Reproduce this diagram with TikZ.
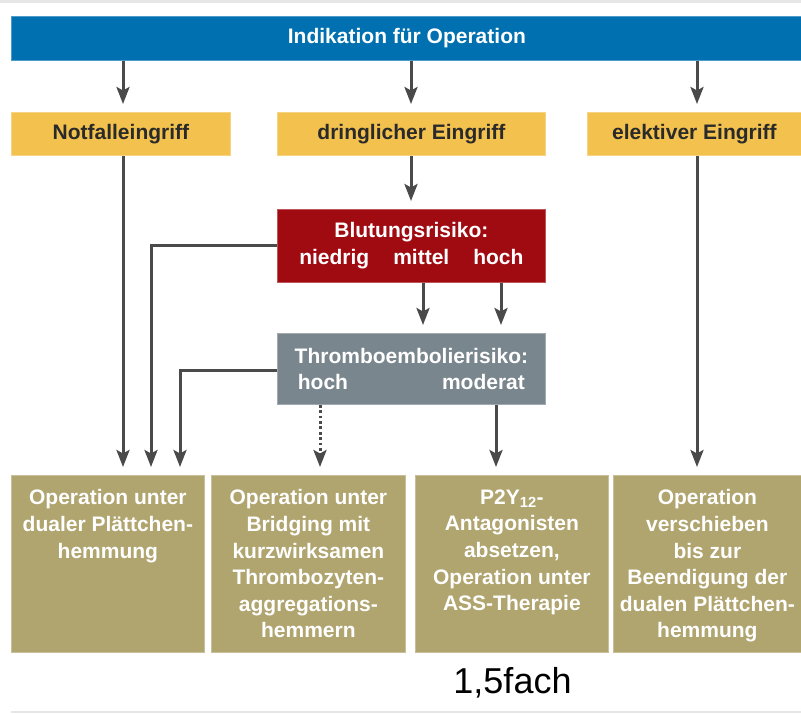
\documentclass[tikz,border=0pt]{standalone}
\usepackage{fontspec}
\setmainfont{Liberation Sans}
\usetikzlibrary{arrows.meta}
\definecolor{barblue}{HTML}{0070B0}
\definecolor{boxyellow}{HTML}{F2C14E}
\definecolor{riskred}{HTML}{A00B12}
\definecolor{riskgray}{HTML}{7A868E}
\definecolor{resultolive}{HTML}{B0A46F}
\definecolor{linkgray}{HTML}{4A4A4A}
\definecolor{rulegray}{HTML}{E6E6E6}
\definecolor{darktext}{HTML}{2A2A2A}

\begin{document}
\begin{tikzpicture}[x=1pt,y=-1pt,
  box/.style={rectangle, inner sep=0pt, anchor=north west,
    fill=#1, draw=#1!70!white, line width=0.8pt},
  boldtext/.style={font=\bfseries\fontsize{21}{26.6}\selectfont, align=center},
  link/.style={draw=linkgray, line width=3pt,
    -{Stealth[length=17pt,width=13pt,inset=3.5pt]}, shorten >=8pt},
  dottedlink/.style={link, dash pattern=on 2.8pt off 2.6pt}
]
\useasboundingbox (0,0) rectangle (801,713);

% thin separator rules at top and bottom
\fill[rulegray] (0,0) rectangle (801,2.5);
\fill[rulegray] (11,710.5) rectangle (801,713);

% header bar
\node[box=barblue, boldtext, text=white, minimum width=791pt, minimum height=44.5pt,
  text height=15pt, text depth=4pt]
  (ind) at (11,15.5) {Indikation für Operation};

% urgency boxes
\node[box=boxyellow, boldtext, text=darktext, minimum width=219pt, minimum height=43pt]
  (notfall) at (11,112) {Notfalleingriff};
\node[box=boxyellow, boldtext, text=darktext, minimum width=268pt, minimum height=43pt]
  (dring) at (277,112) {dringlicher Eingriff};
\node[box=boxyellow, boldtext, text=darktext, minimum width=214pt, minimum height=43pt]
  (elektiv) at (587,112) {elektiver Eingriff};

% risk boxes
\node[box=riskred, boldtext, text=white, minimum width=268pt, minimum height=73pt]
  (blut) at (277,209) {Blutungsrisiko:\\niedrig\hspace{24pt}mittel\hspace{24pt}hoch};
\node[box=riskgray, boldtext, text=white, minimum width=268pt, minimum height=71pt]
  (thrombo) at (277,333) {Thromboembolierisiko:\\hoch\hspace{94pt}moderat};

% result boxes
\node[box=resultolive, minimum width=193pt, minimum height=177pt] (r1) at (11,475) {};
\node[box=resultolive, minimum width=194pt, minimum height=177pt] (r2) at (211,475) {};
\node[box=resultolive, minimum width=193pt, minimum height=177pt] (r3) at (415,475) {};
\node[box=resultolive, minimum width=188pt, minimum height=177pt] (r4) at (613,475) {};

\node[boldtext, text=white, inner sep=0pt, anchor=north, yshift=-14.5pt] (t1) at (r1.north)
  {Operation unter\\dualer Plättchen-\\hemmung};
\node[boldtext, text=white, inner sep=0pt, anchor=north, yshift=-14.5pt] (t2) at (r2.north)
  {Operation unter\\Bridging mit\\kurzwirksamen\\Thrombozyten-\\aggregations-\\hemmern};
\node[boldtext, text=white, inner sep=0pt, anchor=north, yshift=-14.5pt] (t3) at (r3.north)
  {P2Y\textsubscript{12}-\\Antagonisten\\absetzen,\\Operation unter\\ASS-Therapie};
\node[boldtext, text=white, inner sep=0pt, anchor=north, yshift=-14.5pt] (t4) at (r4.north)
  {Operation\\verschieben\\bis zur\\Beendigung der\\dualen Plättchen-\\hemmung};

\node[font=\fontsize{36}{40}\selectfont, anchor=base, inner sep=0pt] (factor) at (512.5,693) {1,5fach};

% connector columns
\coordinate (cA) at (123,0);
\coordinate (cB) at (411,0);
\coordinate (cC) at (697,0);
\coordinate (cM) at (423,0);
\coordinate (cH) at (501,0);
\coordinate (cD) at (320,0);
\coordinate (cE) at (496,0);
\coordinate (kB) at (151,245);
\coordinate (kG) at (180,370);

% header to urgency
\draw[link] (ind.south -| cA) -- (notfall.north -| cA);
\draw[link] (ind.south -| cB) -- (dring.north -| cB);
\draw[link] (ind.south -| cC) -- (elektiv.north -| cC);

% urgency to next step
\draw[link] (notfall.south -| cA) -- (r1.north -| cA);
\draw[link] (dring.south -| cB) -- (blut.north -| cB);
\draw[link] (elektiv.south -| cC) -- (r4.north -| cC);

% bleeding risk
\draw[link] (blut.west |- kB) -| (r1.north -| kB);
\draw[link] (blut.south -| cM) -- (thrombo.north -| cM);
\draw[link] (blut.south -| cH) -- (thrombo.north -| cH);

% thromboembolic risk
\draw[link] (thrombo.west |- kG) -| (r1.north -| kG);
\draw[dottedlink] (thrombo.south -| cD) -- (r2.north -| cD);
\draw[link] (thrombo.south -| cE) -- (r3.north -| cE);
\end{tikzpicture}
\end{document}
